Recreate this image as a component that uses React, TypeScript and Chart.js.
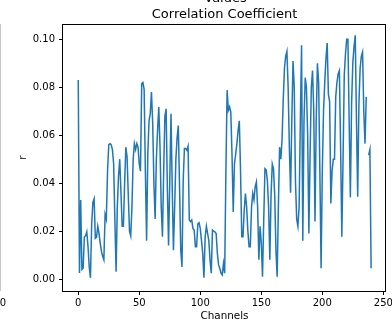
import React, { useEffect, useRef } from "react";
import { Chart, registerables } from "chart.js";

Chart.register(...registerables);

// Correlation coefficient r per channel (channels 0..240)
const rA = [
  0.083, 0.0025, 0.033, 0.004, 0.0045, 0.0175, 0.018, 0.0197, 0.0135, 0.005,
  0.0005, 0.023, 0.032, 0.0335, 0.017, 0.0175, 0.022, 0.019, 0.015, 0.0115,
  0.0095, 0.008, 0.027, 0.025, 0.045, 0.056, 0.0565, 0.056, 0.054, 0.048,
  0.025, 0.003, 0.03, 0.043, 0.05, 0.036, 0.022, 0.022, 0.04, 0.055,
  0.051, 0.035, 0.02, 0.018, 0.03, 0.05, 0.0565, 0.054, 0.0565, 0.055,
  0.048, 0.045, 0.0815, 0.082, 0.079, 0.045, 0.016, 0.052, 0.066, 0.069,
];
const rB = [
  0.078, 0.065, 0.04, 0.025, 0.05, 0.062, 0.0718, 0.055, 0.03, 0.0176,
  0.045, 0.068, 0.071, 0.0385, 0.014, 0.041, 0.069, 0.0385, 0.012, 0.03,
  0.05, 0.059, 0.064, 0.0385, 0.012, 0.005, 0.041, 0.0545, 0.0545, 0.0537,
  0.0554, 0.0246, 0.024, 0.0246, 0.021, 0.0204, 0.0135, 0.0135, 0.023, 0.0235,
  0.021, 0.016, 0.0107, 0.0005, 0.0176, 0.022, 0.019, 0.016, 0.008, 0.0024,
  0.0204, 0.02, 0.0197, 0.019, 0.0107, 0.006, 0.0045, 0.0024, 0.0017, 0.0065,
];
const rC = [
  0.0024, 0.045, 0.0788, 0.0704, 0.0718, 0.0697, 0.052, 0.028, 0.048, 0.052,
  0.0565, 0.062, 0.066, 0.045, 0.0176, 0.0176, 0.0288, 0.0357, 0.03, 0.02,
  0.0135, 0.0135, 0.03, 0.0357, 0.033, 0.0385, 0.0405, 0.03, 0.008, 0.022,
  0.015, 0.001, 0.0246, 0.046, 0.0455, 0.041, 0.03, 0.008, 0.035, 0.048,
  0.046, 0.035, 0.012, 0.001, 0.03, 0.055, 0.05, 0.058, 0.075, 0.088,
  0.093, 0.095, 0.08, 0.055, 0.036, 0.066, 0.091, 0.08, 0.041, 0.025,
];
const rD = [
  0.022, 0.03, 0.066, 0.0975, 0.016, 0.066, 0.084, 0.08, 0.06, 0.019,
  0.052, 0.08, 0.087, 0.07, 0.024, 0.066, 0.09, 0.082, 0.045, 0.0045,
  0.045, 0.07, 0.082, 0.092, 0.0985, 0.077, 0.074, 0.0315, 0.045, 0.05,
  0.05, 0.076, 0.082, 0.0857, 0.087, 0.055, 0.0176, 0.05, 0.085, 0.094,
  0.1, 0.1, 0.066, 0.034, 0.073, 0.09, 0.097, 0.1017, 0.066, 0.0343,
  0.073, 0.088, 0.093, 0.0947, 0.07, 0.0565, 0.076, null, 0.0517, 0.054,
  0.0045,
];

const rValues: (number | null)[] = [...rA, ...rB, ...rC, ...rD];
const channels = rValues.map((_, i) => i);

const xTicks = [0, 50, 100, 150, 200, 250];
const yTicks = [0, 0.02, 0.04, 0.06, 0.08, 0.1];
const titleText = "Correlation Coefficient";
const superTitle = "Values";
const xLabel = "Channels";
const yLabel = "r";

const FONT = "DejaVu Sans";

export default function App() {
  const ref = useRef<HTMLCanvasElement>(null);

  useEffect(() => {
    if (!ref.current) return;
    const extras = {
      id: "extras",
      afterDraw(chart: any) {
        const { ctx, chartArea: a } = chart;
        ctx.save();
        // axes box (spines)
        ctx.strokeStyle = "#000";
        ctx.lineWidth = 1;
        const l = Math.round(a.left) - 0.5;
        const t = Math.round(a.top) + 0.5;
        const r = Math.round(a.right) - 0.5;
        const b = Math.round(a.bottom) + 0.5;
        ctx.strokeRect(l, t, r - l, b - t);
        // neighbouring (cut-off) subplot remnants
        ctx.fillStyle = "#c8c8c8";
        ctx.fillRect(0, Math.round(a.top), 1, Math.round(a.bottom - a.top));
        ctx.fillStyle = "#000";
        ctx.font = `10px ${FONT}`;
        ctx.textAlign = "center";
        ctx.textBaseline = "middle";
        ctx.fillText("0", 3, 303);
        // axes title, centred over the plot area
        const cx = (a.left + a.right) / 2;
        ctx.font = `13px ${FONT}`;
        ctx.textBaseline = "alphabetic";
        ctx.fillText(titleText, cx, 17.5);
        ctx.fillText(superTitle, cx + 1, 2);
        ctx.restore();
      },
    };

    const tickFont = { family: FONT, size: 10 };
    const labelFont = { family: FONT, size: 10.4 };

    const chart = new Chart(ref.current, {
      type: "line",
      data: {
        datasets: [
          {
            data: channels.map((c, i) => ({ x: c, y: rValues[i] })) as any,
            borderColor: "#1f77b4",
            borderWidth: 1.5,
            pointRadius: 0,
            tension: 0,
            spanGaps: false,
            fill: false,
          },
        ],
      },
      options: {
        responsive: false,
        animation: false,
        devicePixelRatio: 1,
        layout: { padding: { left: 0, right: 6, top: 24, bottom: 0 } },
        plugins: {
          legend: { display: false },
          tooltip: { enabled: false },
          title: { display: false },
        },
        scales: {
          x: {
            type: "linear",
            min: -12.5,
            max: 252.2,
            afterBuildTicks: (s: any) => {
              s.ticks = xTicks.map((v) => ({ value: v }));
            },
            afterFit: (s: any) => {
              s.height = 33;
              s.paddingLeft = 0;
              s.paddingRight = 0;
            },
            grid: {
              display: true,
              drawOnChartArea: false,
              drawTicks: true,
              tickLength: 4,
              color: "#000",
              lineWidth: 1,
            },
            border: { display: false },
            ticks: {
              color: "#000",
              font: tickFont,
              padding: 2,
              maxRotation: 0,
              autoSkip: false,
              callback: (v: any) => String(v),
            },
            title: {
              display: true,
              text: xLabel,
              color: "#000",
              font: labelFont,
              padding: { top: 0, bottom: 1 },
            },
          },
          y: {
            type: "linear",
            min: -0.005,
            max: 0.1064,
            afterBuildTicks: (s: any) => {
              s.ticks = yTicks.map((v) => ({ value: v }));
            },
            afterFit: (s: any) => {
              s.width = 63;
              s.paddingTop = 0;
              s.paddingBottom = 0;
            },
            grid: {
              display: true,
              drawOnChartArea: false,
              drawTicks: true,
              tickLength: 4,
              color: "#000",
              lineWidth: 1,
            },
            border: { display: false },
            ticks: {
              color: "#000",
              font: tickFont,
              padding: 4,
              autoSkip: false,
              callback: (v: any) => Number(v).toFixed(2),
            },
            title: {
              display: true,
              text: yLabel,
              color: "#000",
              font: labelFont,
              padding: { top: 17, bottom: 0 },
            },
          },
        },
      },
      plugins: [extras],
    } as any);

    return () => chart.destroy();
  }, []);

  return (
    <div
      style={{
        position: "absolute",
        left: 0,
        top: 0,
        width: 392,
        height: 324,
        background: "#fff",
      }}
    >
      <canvas ref={ref} width={392} height={324} style={{ display: "block" }} />
    </div>
  );
}
